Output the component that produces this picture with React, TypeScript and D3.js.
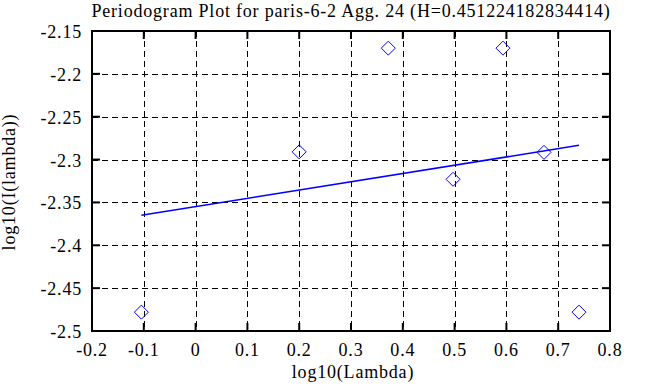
import React from "react";
import * as d3 from "d3";

// periodogram points (log10 lambda vs log10 I(lambda))
const logLambda = [-0.1047, 0.2, 0.372, 0.497, 0.5934, 0.6726, 0.7402];
const logPower = [-2.478, -2.291, -2.17, -2.323, -2.17, -2.2916, -2.478];

// least squares fit endpoints
const fitX = [-0.1047, 0.7402];
const fitY = [-2.365, -2.2834];

const xTicks = [-0.2, -0.1, 0, 0.1, 0.2, 0.3, 0.4, 0.5, 0.6, 0.7, 0.8];
const yTicks = [-2.15, -2.2, -2.25, -2.3, -2.35, -2.4, -2.45, -2.5];

const title = "Periodogram Plot for paris-6-2 Agg. 24 (H=0.451224182834414)";

const W = 657;
const H = 387;
const margin = { top: 31, right: 47, bottom: 56, left: 92 };
const txt = { fontFamily: "Liberation Serif", fontSize: 18, letterSpacing: 0.8 };

const App = () => {
  const innerW = W - margin.left - margin.right;
  const innerH = H - margin.top - margin.bottom;

  const x = d3.scaleLinear().domain([-0.2, 0.8]).range([0, innerW]);
  const y = d3.scaleLinear().domain([-2.5, -2.15]).range([innerH, 0]);

  const line = d3
    .line<number>()
    .x((d) => x(d))
    .y((_, i) => y(fitY[i]));

  const diamond = (cx: number, cy: number, r: number) =>
    `M${cx},${cy - r}L${cx + r},${cy}L${cx},${cy + r}L${cx - r},${cy}Z`;

  return (
    <svg
      width={W}
      height={H}
      style={{ position: "absolute", left: 0, top: 0, background: "#fff" }}
    >
      <text x={margin.left + innerW / 2} y={16.5} textAnchor="middle" style={txt}>
        {title}
      </text>
      <g transform={`translate(${margin.left},${margin.top})`}>
        {/* grid */}
        {xTicks.slice(1, -1).map((t) => (
          <line
            key={"gx" + t}
            x1={Math.round(x(t)) + 0.5}
            x2={Math.round(x(t)) + 0.5}
            y1={0}
            y2={innerH}
            stroke="#000"
            strokeDasharray="6,4"
          />
        ))}
        {yTicks.slice(1, -1).map((t) => (
          <line
            key={"gy" + t}
            x1={0}
            x2={innerW}
            y1={Math.round(y(t)) + 0.5}
            y2={Math.round(y(t)) + 0.5}
            stroke="#000"
            strokeDasharray="6,4"
          />
        ))}
        {/* inner ticks */}
        {xTicks.map((t) => (
          <g key={"tx" + t}>
            <line x1={x(t)} x2={x(t)} y1={innerH} y2={innerH - 8} stroke="#000" strokeWidth={2} />
            <line x1={x(t)} x2={x(t)} y1={0} y2={8} stroke="#000" strokeWidth={2} />
            <text x={x(t)} y={innerH + 25} textAnchor="middle" style={txt}>
              {String(t)}
            </text>
          </g>
        ))}
        {yTicks.map((t) => (
          <g key={"ty" + t}>
            <line x1={0} x2={8} y1={y(t)} y2={y(t)} stroke="#000" strokeWidth={2} />
            <line x1={innerW} x2={innerW - 8} y1={y(t)} y2={y(t)} stroke="#000" strokeWidth={2} />
            <text x={-10} y={y(t) + 7} textAnchor="end" style={txt}>
              {String(t)}
            </text>
          </g>
        ))}
        {/* fit line */}
        <path d={line(fitX) ?? ""} fill="none" stroke="#0000ff" strokeWidth={1.5} />
        {/* points */}
        {logLambda.map((v, i) => (
          <path
            key={"p" + i}
            d={diamond(x(v), y(logPower[i]), 7)}
            fill="none"
            stroke="#0000ff"
            strokeWidth={1}
          />
        ))}
        {/* frame */}
        <rect x={0} y={0} width={innerW} height={innerH} fill="none" stroke="#000" strokeWidth={2} />
      </g>
      <text x={353} y={378} textAnchor="middle" style={txt}>
        log10(Lambda)
      </text>
      <text transform="translate(15,182) rotate(-90)" textAnchor="middle" style={txt}>
        log10(I(lambda))
      </text>
    </svg>
  );
};

export default App;
